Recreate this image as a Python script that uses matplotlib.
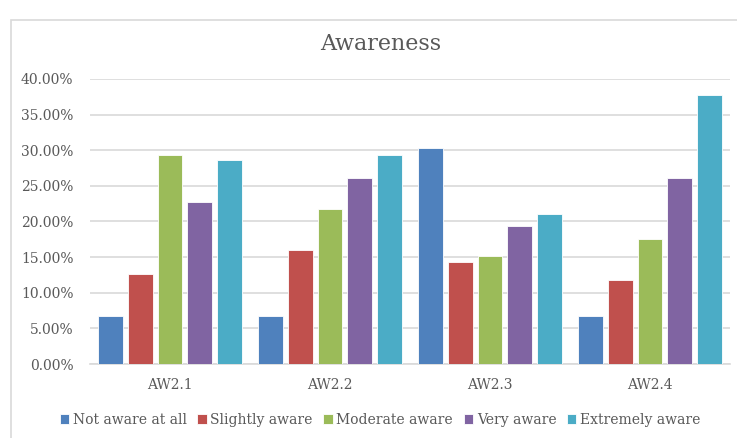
import matplotlib
matplotlib.use("Agg")
import matplotlib.pyplot as plt
from matplotlib.patches import Rectangle
import numpy as np

# data
groups = ["AW2.1", "AW2.2", "AW2.3", "AW2.4"]
series = ["Not aware at all", "Slightly aware", "Moderate aware", "Very aware", "Extremely aware"]
not_aware = [6.67, 6.67, 30.3, 6.67]
slightly = [12.6, 16.0, 14.3, 11.8]
moderate = [29.4, 21.8, 15.1, 17.6]
very = [22.7, 26.1, 19.3, 26.1]
extremely = [28.6, 29.4, 21.0, 37.8]
colors = ["#4F81BD", "#C0504D", "#9BBB59", "#8064A2", "#4BACC6"]

values = [not_aware, slightly, moderate, very, extremely]

plt.rcParams["font.family"] = ["DejaVu Serif"]
txt = "#595959"
grid = "#D9D9D9"

W, H = 737, 438
fig = plt.figure(figsize=(W / 100, H / 100), dpi=100)

# chart frame (cropped on right and bottom)
fig.patches.append(Rectangle((11 / W, -0.1), 1.2, 1.1 - 20 / H, transform=fig.transFigure,
                             fill=False, edgecolor=grid, linewidth=1.2))

ax = fig.add_axes([90 / W, 1 - 364 / H, 640 / W, 285 / H])

x = np.arange(len(groups))
step = 0.185
bw = 0.155
for i, (name, vals) in enumerate(zip(series, values)):
    ax.bar(x + (i - 2) * step, np.array(vals) / 100, width=bw, color=colors[i],
           edgecolor="white", linewidth=0.6, label=name, zorder=3)

ax.set_xlim(-0.5, len(groups) - 0.5)
ax.set_ylim(0, 0.40)
ax.set_yticks(np.arange(0, 0.401, 0.05))
ax.set_yticklabels([f"{v * 100:.2f}%" for v in np.arange(0, 0.401, 0.05)], color=txt, fontsize=10)
ax.set_xticks(x)
ax.set_xticklabels(groups, color=txt, fontsize=10)
ax.tick_params(axis="y", length=0, pad=12)
ax.tick_params(axis="x", length=0, pad=10)
ax.yaxis.grid(True, color=grid, linewidth=1.2, zorder=0)
ax.set_axisbelow(True)
for s in ["top", "right", "left"]:
    ax.spines[s].set_visible(False)
ax.spines["bottom"].set_color(grid)
ax.spines["bottom"].set_linewidth(1.2)

fig.text(0.516, 1 - 44 / H, "Awareness", ha="center", va="center", fontsize=16, color=txt)

ax.legend(loc="center", bbox_to_anchor=(380 / W, 1 - 420 / H), bbox_transform=fig.transFigure,
          ncol=5, frameon=False, fontsize=10, handlelength=0.7, handleheight=0.7,
          handletextpad=0.25, columnspacing=0.75, labelcolor=txt)

fig.savefig("out.png", dpi=100)
